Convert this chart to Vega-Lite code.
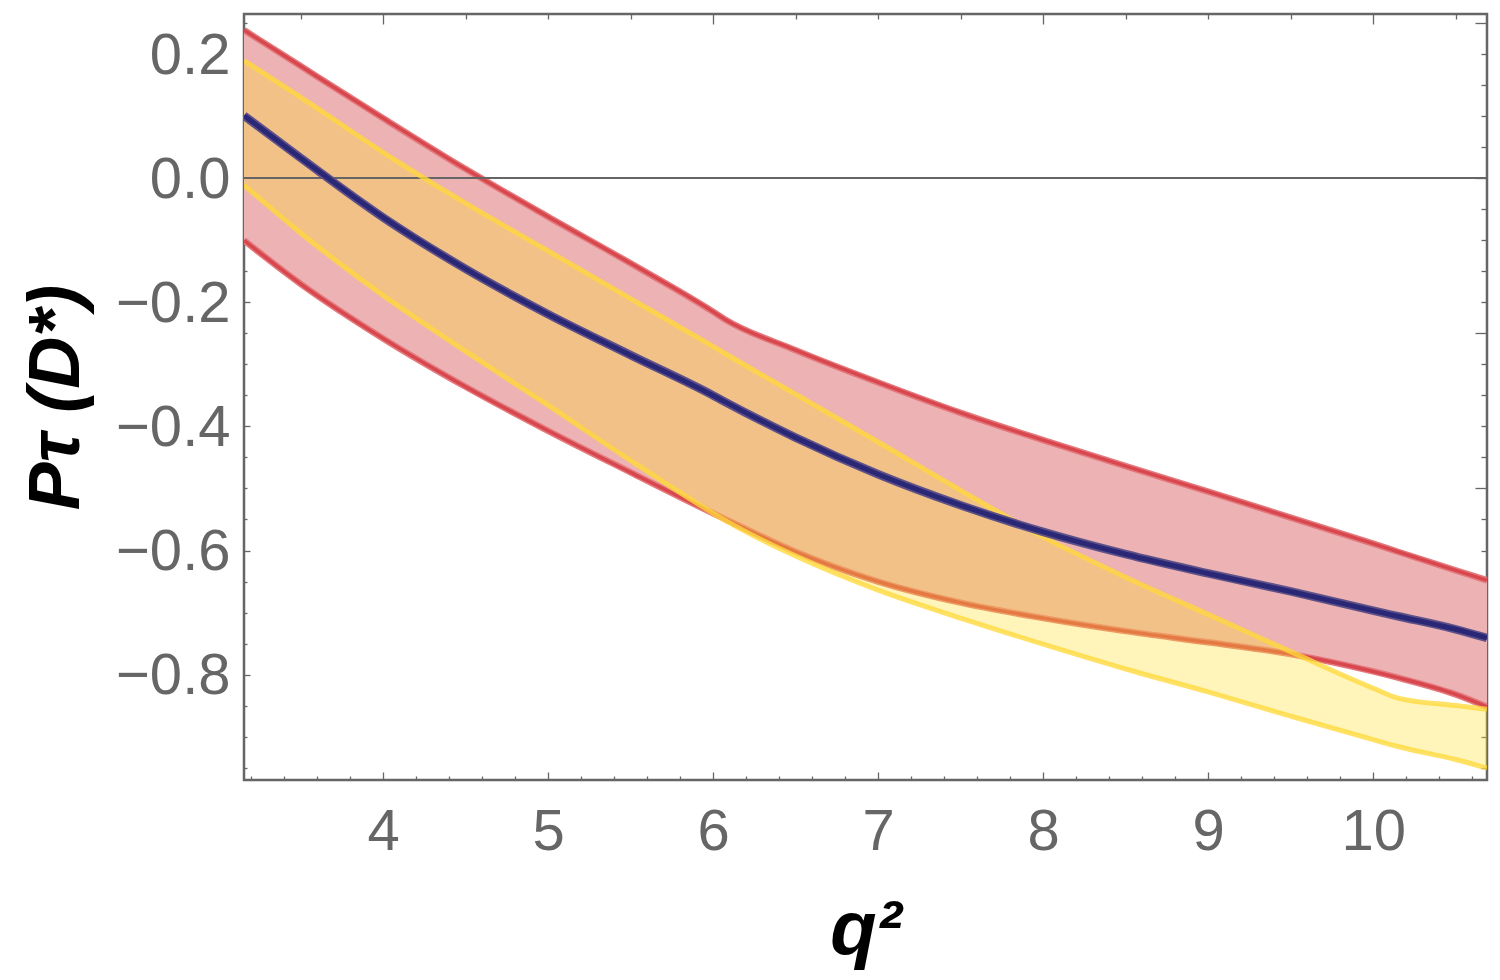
{
  "$schema": "https://vega.github.io/schema/vega-lite/v6.json",
  "width": 1243,
  "height": 766,
  "autosize": {"type": "none"},
  "padding": {"left": 244, "top": 14, "right": 13, "bottom": 200},
  "background": "white",
  "config": {"view": {"stroke": "#666666", "strokeWidth": 2.5}, "axis": {"grid": false}},
  "data": {"values": [
    {"q": 3.157, "rhi": 0.239, "rlo": -0.100, "yhi": 0.190, "ylo": -0.011, "c": 0.101},
    {"q": 3.5, "rhi": 0.181, "rlo": -0.170, "yhi": 0.131, "ylo": -0.088, "c": 0.033},
    {"q": 4, "rhi": 0.097, "rlo": -0.258, "yhi": 0.042, "ylo": -0.189, "c": -0.063},
    {"q": 4.5, "rhi": 0.015, "rlo": -0.336, "yhi": -0.040, "ylo": -0.279, "c": -0.146},
    {"q": 5, "rhi": -0.062, "rlo": -0.407, "yhi": -0.117, "ylo": -0.366, "c": -0.219},
    {"q": 5.5, "rhi": -0.137, "rlo": -0.474, "yhi": -0.194, "ylo": -0.455, "c": -0.285},
    {"q": 6, "rhi": -0.215, "rlo": -0.540, "yhi": -0.271, "ylo": -0.540, "c": -0.350},
    {"q": 6.07, "rhi": -0.227, "rlo": -0.549, "yhi": -0.282, "ylo": -0.551, "c": -0.360},
    {"q": 6.5, "rhi": -0.277, "rlo": -0.602, "yhi": -0.348, "ylo": -0.609, "c": -0.418},
    {"q": 7, "rhi": -0.329, "rlo": -0.650, "yhi": -0.425, "ylo": -0.664, "c": -0.477},
    {"q": 7.5, "rhi": -0.378, "rlo": -0.684, "yhi": -0.503, "ylo": -0.709, "c": -0.527},
    {"q": 8, "rhi": -0.422, "rlo": -0.709, "yhi": -0.578, "ylo": -0.751, "c": -0.570},
    {"q": 8.5, "rhi": -0.464, "rlo": -0.730, "yhi": -0.643, "ylo": -0.791, "c": -0.606},
    {"q": 9, "rhi": -0.505, "rlo": -0.748, "yhi": -0.703, "ylo": -0.828, "c": -0.637},
    {"q": 9.5, "rhi": -0.547, "rlo": -0.767, "yhi": -0.763, "ylo": -0.867, "c": -0.666},
    {"q": 10, "rhi": -0.589, "rlo": -0.795, "yhi": -0.822, "ylo": -0.905, "c": -0.697},
    {"q": 10.15, "rhi": -0.602, "rlo": -0.805, "yhi": -0.838, "ylo": -0.916, "c": -0.706},
    {"q": 10.5, "rhi": -0.632, "rlo": -0.832, "yhi": -0.850, "ylo": -0.937, "c": -0.727},
    {"q": 10.69, "rhi": -0.648, "rlo": -0.852, "yhi": -0.856, "ylo": -0.951, "c": -0.741}
  ]},
  "resolve": {"axis": {"x": "independent", "y": "independent"}},
  "layer": [
    {
      "mark": {"type": "area", "color": "#ecb2b4", "clip": true, "interpolate": "monotone"},
      "encoding": {
        "x": {"field": "q", "type": "quantitative", "scale": {"domain": [3.157, 10.69], "nice": false, "zero": false},
          "axis": {"orient": "bottom", "values": [4, 5, 6, 7, 8, 9, 10], "ticks": false, "domain": false, "labelOverlap": false, "labelFlush": false,
            "labelFont": "Liberation Sans", "labelFontSize": 58, "labelColor": "#666666", "labelPadding": 23,
            "title": "q²", "titleFont": "Liberation Sans", "titleFontSize": 76, "titleFontWeight": "bold", "titleFontStyle": "italic", "titleColor": "black", "titlePadding": 32}},
        "y": {"field": "rhi", "type": "quantitative", "scale": {"domain": [-0.97, 0.265], "nice": false, "zero": false},
          "axis": {"orient": "left", "values": [-0.8, -0.6, -0.4, -0.2, 0, 0.2], "format": ".1f", "ticks": false, "domain": false, "labelOverlap": false, "labelFlush": false,
            "labelFont": "Liberation Sans", "labelFontSize": 58, "labelColor": "#666666", "labelPadding": 14, "labelBaseline": "alphabetic", "labelOffset": 19,
            "title": "Pτ (D*)", "titleFont": "Liberation Sans", "titleFontSize": 72, "titleFontWeight": "bold", "titleFontStyle": "italic", "titleColor": "black", "titlePadding": 22}},
        "y2": {"field": "rlo"}
      }
    },
    {
      "transform": [{"fold": ["rhi", "rlo"], "as": ["k", "v"]}],
      "mark": {"type": "line", "color": "#e4797d", "strokeWidth": 6.5, "clip": true, "interpolate": "monotone"},
      "encoding": {
        "x": {"field": "q", "type": "quantitative", "scale": {"domain": [3.157, 10.69], "nice": false, "zero": false},
          "axis": {"orient": "bottom", "values": [3.2, 3.4, 3.6, 3.8, 4, 4.2, 4.4, 4.6, 4.8, 5, 5.2, 5.4, 5.6, 5.8, 6, 6.2, 6.4, 6.6, 6.8, 7, 7.2, 7.4, 7.6, 7.8, 8, 8.2, 8.4, 8.6, 8.8, 9, 9.2, 9.4, 9.6, 9.8, 10, 10.2, 10.4, 10.6],
            "labels": false, "domain": false, "title": null, "tickColor": "#666666", "tickWidth": 1.3,
            "tickSize": {"condition": {"test": "abs(datum.value - round(datum.value)) < 0.001", "value": -8}, "value": -4}}},
        "y": {"field": "v", "type": "quantitative", "scale": {"domain": [-0.97, 0.265], "nice": false, "zero": false},
          "axis": {"orient": "left", "values": [-0.95, -0.9, -0.85, -0.8, -0.75, -0.7, -0.65, -0.6, -0.55, -0.5, -0.45, -0.4, -0.35, -0.3, -0.25, -0.2, -0.15, -0.1, -0.05, 0, 0.05, 0.1, 0.15, 0.2, 0.25],
            "labels": false, "domain": false, "title": null, "tickColor": "#666666", "tickWidth": 1.3,
            "tickSize": {"condition": {"test": "abs(datum.value*5 - round(datum.value*5)) < 0.001", "value": -6}, "value": -3}}},
        "detail": {"field": "k", "type": "nominal"}
      }
    },
    {
      "transform": [{"fold": ["rhi", "rlo"], "as": ["k", "v"]}],
      "mark": {"type": "line", "color": "#d8474d", "strokeWidth": 3.5, "clip": true, "interpolate": "monotone"},
      "encoding": {
        "x": {"field": "q", "type": "quantitative", "axis": null},
        "y": {"field": "v", "type": "quantitative", "axis": null},
        "detail": {"field": "k", "type": "nominal"}
      }
    },
    {
      "mark": {"type": "area", "color": "#ffe030", "opacity": 0.33, "clip": true, "interpolate": "monotone"},
      "encoding": {
        "x": {"field": "q", "type": "quantitative", "scale": {"domain": [3.157, 10.69], "nice": false, "zero": false},
          "axis": {"orient": "top", "values": [3.5, 4, 4.5, 5, 5.5, 6, 6.5, 7, 7.5, 8, 8.5, 9, 9.5, 10, 10.5],
            "labels": false, "domain": false, "title": null, "tickColor": "#666666", "tickWidth": 1.3,
            "tickSize": {"condition": {"test": "abs(datum.value/2 - round(datum.value/2)) < 0.001", "value": -10}, "value": -5}}},
        "y": {"field": "yhi", "type": "quantitative", "scale": {"domain": [-0.97, 0.265], "nice": false, "zero": false},
          "axis": {"orient": "right", "values": [-0.95, -0.9, -0.85, -0.8, -0.75, -0.7, -0.65, -0.6, -0.55, -0.5, -0.45, -0.4, -0.35, -0.3, -0.25, -0.2, -0.15, -0.1, -0.05, 0, 0.05, 0.1, 0.15, 0.2, 0.25],
            "labels": false, "domain": false, "title": null, "tickColor": "#666666", "tickWidth": 1.3,
            "tickSize": {"condition": {"test": "abs(datum.value*4 - round(datum.value*4)) < 0.001", "value": -12}, "value": -6}}},
        "y2": {"field": "ylo"}
      }
    },
    {
      "mark": {"type": "rule", "color": "#666666", "strokeWidth": 1.3},
      "encoding": {"y": {"datum": 0, "type": "quantitative", "axis": null}}
    },
    {
      "transform": [{"fold": ["yhi", "ylo"], "as": ["k", "v"]}],
      "mark": {"type": "line", "color": "#ffd83a", "opacity": 0.78, "strokeWidth": 5, "clip": true, "interpolate": "monotone"},
      "encoding": {
        "x": {"field": "q", "type": "quantitative", "axis": null},
        "y": {"field": "v", "type": "quantitative", "axis": null},
        "detail": {"field": "k", "type": "nominal"}
      }
    },
    {
      "mark": {"type": "line", "color": "#5d5187", "strokeWidth": 8.5, "clip": true, "interpolate": "monotone"},
      "encoding": {
        "x": {"field": "q", "type": "quantitative", "axis": null},
        "y": {"field": "c", "type": "quantitative", "axis": null}
      }
    },
    {
      "mark": {"type": "line", "color": "#2b2777", "strokeWidth": 5, "clip": true, "interpolate": "monotone"},
      "encoding": {
        "x": {"field": "q", "type": "quantitative", "axis": null},
        "y": {"field": "c", "type": "quantitative", "axis": null}
      }
    }
  ]
}
